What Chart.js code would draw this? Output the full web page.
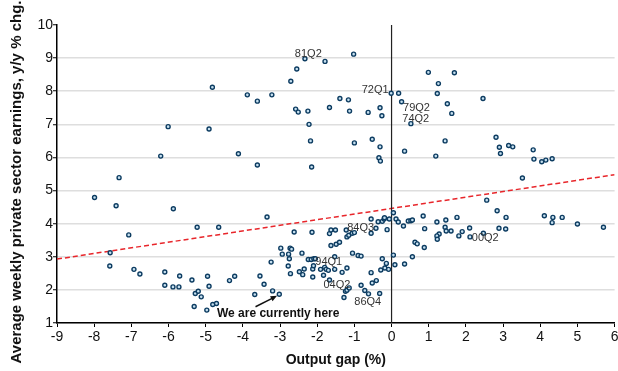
<!DOCTYPE html>
<html>
<head>
<meta charset="utf-8">
<script src="https://cdn.jsdelivr.net/npm/chart.js@4"></script>
<style>
  body { margin: 0; background: #fff; }
</style>
</head>
<body>
<canvas id="c" width="618" height="371"></canvas>
<script>
// output gap (%) per quarter
var gapX = [
  -6.01, -6.21, -7.33, -4.82, -4.91, -4.12, -3.88, -3.61, -3.22, -3.61,
  -2.71, -2.55, -2.33, -1.79, -1.02, -2.58, -2.51, -2.25, -2.22, -2.18,
  -2.15, -1.67, -1.39, -1.16, -1.13, -1.00, -0.63, -0.52, -0.31, -0.26,
  -0.31, -0.34, -0.30, -0.01, 0.19, 0.27, 0.52, 0.35, 0.99, 1.69,
  1.26, 1.23, 1.50, 1.62, 2.46, 1.44, 1.19, 2.81, 2.90, 2.93,
  3.15, 3.26, 3.52, 3.81, 3.83, 4.04, 4.15, 4.32,
  -7.99, -7.41, -5.87, -5.23, -7.07, -7.57, -7.58, -6.93, -6.77, -6.10,
  -6.10, -5.88, -5.72, -5.70, -5.37, -5.28, -5.20, -5.12, -5.31, -4.97,
  -4.95, -4.91, -4.81, -4.71, -4.65, -4.36, -4.22, -3.68, -3.54, -3.43,
  -3.35, -3.24, -3.20, -3.02, -2.98, -2.94, -2.78, -2.77, -2.75, -2.73,
  -2.69, -2.72, -2.62, -2.48, -2.41, -2.39, -2.35, -2.24, -2.16, -2.14,
  -2.12, -2.12, -2.09, -2.05, -2.10, -1.91, -1.83, -1.80, -1.76, -1.70,
  -1.67, -1.63, -1.51, -1.63, -1.49, -1.40, -1.53, -1.53, -1.67, -1.33,
  -1.22, -1.20, -1.15, -1.06, -1.00, -1.20, -1.05, -0.90, -0.82, -1.24,
  -1.20, -1.14, -1.28, -0.82, -0.72, -0.62, -0.55, -0.52, -0.41, -0.32,
  -0.55, -0.55, -0.42, -0.36, -0.25, -0.20, -0.19, -0.12, -0.06, -0.25,
  -0.29, -0.14, -0.18, -0.08, 0.05, 0.12, 0.18, 0.32, 0.05, 0.09,
  0.35, 0.45, 0.52, 0.56, 0.85, 0.89, 0.63, 0.69, 0.88, 0.56,
  1.22, 1.46, 1.76, 1.44, 1.47, 1.60, 1.28, 1.22, 1.23, 1.90,
  1.81, 2.10, 2.11, 2.47, 2.56, 2.84, 2.89, 3.08, 3.07, 4.11,
  4.34, 4.32, 4.59, 5.00, 5.70
];
// average weekly private sector earnings, y/y % chg.
var earnY = [
  6.93, 6.04, 5.39, 8.12, 6.86, 6.11, 7.89, 7.70, 7.89, 5.77,
  8.30, 8.67, 8.98, 8.90, 9.12, 7.46, 7.37, 7.40, 7.00, 6.50,
  5.71, 7.51, 7.78, 7.74, 7.40, 6.44, 7.36, 6.55, 7.50, 7.26,
  6.32, 5.99, 5.89, 7.94, 7.94, 7.68, 7.02, 6.19, 8.57, 8.56,
  8.23, 7.93, 7.62, 7.33, 7.78, 6.50, 6.04, 6.61, 6.31, 6.12,
  6.36, 6.32, 5.38, 6.23, 5.95, 5.87, 5.92, 5.96,
  4.79, 4.54, 4.45, 3.89, 3.66, 3.12, 2.72, 2.62, 2.48, 2.54,
  2.14, 2.09, 2.09, 2.42, 2.30, 1.89, 1.96, 1.79, 1.50, 1.39,
  2.41, 2.11, 1.56, 1.59, 3.89, 2.28, 2.41, 1.86, 2.42, 2.17,
  4.20, 2.84, 1.97, 1.87, 3.26, 3.08, 2.72, 3.08, 2.94, 3.26,
  3.23, 2.49, 3.75, 2.55, 3.11, 2.46, 2.63, 2.92, 2.92, 3.74,
  2.39, 2.63, 2.94, 2.94, 2.73, 2.62, 2.44, 2.68, 2.62, 2.59,
  3.70, 3.81, 3.81, 3.34, 3.38, 3.44, 3.00, 2.62, 2.30, 2.53,
  3.81, 3.60, 3.65, 3.71, 3.73, 2.66, 3.11, 3.04, 3.02, 1.96,
  1.99, 2.06, 1.77, 2.14, 1.98, 1.88, 2.52, 2.21, 2.28, 1.89,
  4.14, 3.71, 3.86, 4.06, 4.07, 4.14, 4.18, 3.82, 4.14, 2.94,
  2.60, 2.80, 2.66, 2.62, 4.33, 4.14, 4.05, 3.93, 3.05, 2.76,
  2.78, 4.08, 4.09, 4.11, 4.23, 3.85, 3.44, 3.39, 3.28, 3.00,
  4.05, 4.11, 4.19, 3.89, 3.78, 3.78, 3.69, 3.63, 3.53, 3.76,
  3.63, 3.87, 3.60, 3.71, 4.71, 4.39, 3.86, 4.19, 3.84, 4.24,
  4.19, 4.03, 4.19, 3.99, 3.89
];
// trend line end points
var trendX = [-9, 6];
var trendY = [2.93, 5.48];
// quarter labels (text centre in data units)
var labelText = ["81Q2", "72Q1", "79Q2", "74Q2", "84Q3", "94Q1", "04Q2", "86Q4", "00Q2"];
var labelX = [-2.24, -0.44, 0.67, 0.65, -0.83, -1.69, -1.47, -0.64, 2.52];
var labelY = [9.12, 8.04, 7.50, 7.17, 3.86, 2.85, 2.15, 1.64, 3.56];
var noteText = "We are currently here";
var noteX = -3.05, noteY = 1.27;
var arrowFrom = [-3.66, 1.49], arrowTo = [-3.08, 1.82];
var yTitle = "Average weekly private sector earnings, y/y % chg.";

var FONT = "'Liberation Sans', Arial, sans-serif";

var points = gapX.map(function (x, i) { return {x: x, y: earnY[i]}; });
var trend = trendX.map(function (x, i) { return {x: x, y: trendY[i]}; });

var labelPlugin = {
  id: "labels",
  afterDraw: function (chart) {
    var ctx = chart.ctx, sx = chart.scales.x, sy = chart.scales.y;
    ctx.save();
    ctx.fillStyle = "#333";
    ctx.font = "11px " + FONT;
    ctx.textAlign = "center";
    ctx.textBaseline = "middle";
    for (var i = 0; i < labelText.length; i++) {
      ctx.fillText(labelText[i], sx.getPixelForValue(labelX[i]), sy.getPixelForValue(labelY[i]));
    }
    ctx.fillStyle = "#111";
    ctx.font = "bold 12px " + FONT;
    ctx.fillText(noteText, sx.getPixelForValue(noteX), sy.getPixelForValue(noteY));

    // arrow
    var x1 = sx.getPixelForValue(arrowFrom[0]), y1 = sy.getPixelForValue(arrowFrom[1]);
    var x2 = sx.getPixelForValue(arrowTo[0]), y2 = sy.getPixelForValue(arrowTo[1]);
    var a = Math.atan2(y2 - y1, x2 - x1);
    ctx.strokeStyle = "#111";
    ctx.lineWidth = 1.5;
    ctx.beginPath();
    ctx.moveTo(x1, y1);
    ctx.lineTo(x2 - 5 * Math.cos(a), y2 - 5 * Math.sin(a));
    ctx.stroke();
    ctx.beginPath();
    ctx.moveTo(x2, y2);
    ctx.lineTo(x2 - 7 * Math.cos(a - 0.4), y2 - 7 * Math.sin(a - 0.4));
    ctx.lineTo(x2 - 7 * Math.cos(a + 0.4), y2 - 7 * Math.sin(a + 0.4));
    ctx.closePath();
    ctx.fill();

    // y axis title
    ctx.translate(17, 182);
    ctx.rotate(-Math.PI / 2);
    ctx.font = "bold 15px " + FONT;
    ctx.fillText(yTitle, 0, 0);
    ctx.restore();
  }
};

new Chart("c", {
  type: "scatter",
  data: {
    datasets: [
      {
        data: points,
        pointRadius: 2,
        pointBorderWidth: 1.4,
        borderColor: "#0d3c61",
        backgroundColor: "#c6e0f0",
        pointHoverRadius: 2
      },
      {
        data: [{x: 0, y: 1}, {x: 0, y: 10}],
        showLine: true,
        borderColor: "#222",
        borderWidth: 1.2,
        pointRadius: 0
      },
      {
        data: trend,
        showLine: true,
        borderColor: "#e8262b",
        borderWidth: 1.5,
        borderDash: [5, 3],
        pointRadius: 0
      }
    ]
  },
  options: {
    responsive: false,
    animation: false,
    devicePixelRatio: 1,
    layout: {padding: {top: 25, right: 2, left: 0, bottom: 0}},
    plugins: {legend: {display: false}, tooltip: {enabled: false}},
    scales: {
      x: {
        type: "linear",
        min: -9, max: 6,
        ticks: {stepSize: 1, color: "#111", padding: 2, font: {size: 14, family: FONT}},
        grid: {drawOnChartArea: false, tickLength: 4, tickColor: "#000", tickWidth: 1},
        border: {color: "#000", width: 1.5},
        title: {display: true, text: "Output gap (%)", color: "#111",
          font: {size: 14, weight: "bold", family: FONT}, padding: {top: 0, bottom: 2}},
        afterFit: function (s) { s.height = 48; s.paddingLeft = 0; s.paddingRight = 0; }
      },
      y: {
        min: 1, max: 10,
        ticks: {stepSize: 1, color: "#111", padding: 0, font: {size: 14, family: FONT}},
        grid: {
          color: function (c) { return c.tick && c.tick.value === 10 ? "rgba(0,0,0,0)" : "#dedede"; },
          lineWidth: 1.5, tickLength: 4, tickColor: "#000", tickWidth: 1
        },
        border: {color: "#000", width: 1.5},
        title: {display: false},
        afterFit: function (s) { s.width = 57; s.paddingTop = 0; s.paddingBottom = 0; }
      }
    }
  },
  plugins: [labelPlugin]
});
</script>
</body>
</html>
